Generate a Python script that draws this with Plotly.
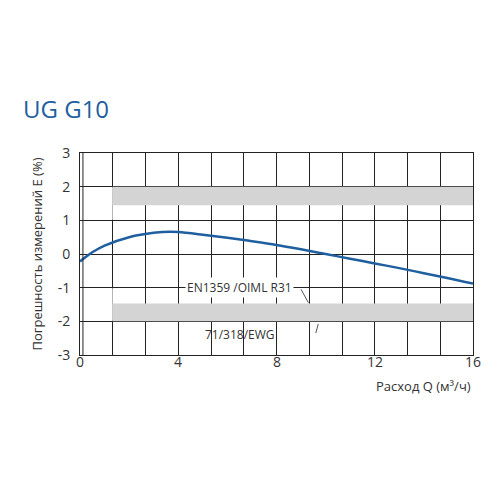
import plotly.graph_objects as go

# curve readings
flow = [0, 0.5, 1, 2, 3, 3.7, 4, 5, 6, 7, 8, 9, 10, 11, 12, 13, 14, 15, 16]
error = [-0.22, 0.05, 0.25, 0.5, 0.63, 0.66, 0.65, 0.57, 0.48, 0.38, 0.27, 0.14, 0.0, -0.14, -0.28, -0.42, -0.57, -0.72, -0.88]

band_x = [1.33, 16]
upper_band = [1.45, 2]
lower_band = [-2, -1.47]
y_ticks = [-3, -2, -1, 0, 1, 2, 3]
x_labels = [0, 4, 8, 12, 16]

blue = "#1f5fa0"
fig = go.Figure()
for lo, hi in (upper_band, lower_band):
    fig.add_shape(type="rect", x0=band_x[0], x1=band_x[1], y0=lo, y1=hi,
                  fillcolor="#d4d4d4", line_width=0, layer="above")
# white patches where grid is hidden
fig.add_shape(type="rect", x0=0.05, x1=1.33, y0=1.02, y1=1.98, fillcolor="white", line_width=0, layer="above")
fig.add_shape(type="rect", x0=0.05, x1=1.33, y0=-1.98, y1=-1.02, fillcolor="white", line_width=0, layer="above")
fig.add_shape(type="line", x0=0.12, x1=0.12, y0=-3, y1=3, line=dict(color="#222", width=1))

fig.add_trace(go.Scatter(x=flow, y=error, mode="lines", line=dict(color=blue, width=2.5, shape="spline"),
                         showlegend=False))

fig.add_shape(type="line", x0=9.0, x1=9.3, y0=-1.05, y1=-1.45, line=dict(color="#555", width=1))
fig.add_shape(type="line", x0=9.6, x1=9.7, y0=-2.35, y1=-2.08, line=dict(color="#555", width=1))
fig.add_annotation(x=6.5, y=-1, text="EN1359 /OIML R31", showarrow=False, bgcolor="white",
                   font=dict(size=12, color="#333", family="Open Sans"))
fig.add_annotation(x=6.5, y=-2.4, text="71/318/EWG", showarrow=False,
                   font=dict(size=12, color="#333", family="Open Sans"))

fig.update_layout(
    width=500, height=500, plot_bgcolor="white", paper_bgcolor="white",
    margin=dict(l=72, r=35, t=145, b=153),
    font=dict(family="Open Sans", color="#333", size=14),
    xaxis=dict(range=[0, 16], tick0=0, dtick=4 / 3, showgrid=True, gridcolor="#222", gridwidth=1,
               showticklabels=False, showline=True, linecolor="#222", mirror=True, zeroline=False),
    yaxis=dict(range=[-3, 3], tickvals=y_ticks, ticktext=[str(v) for v in y_ticks],
               showgrid=True, gridcolor="#222", gridwidth=1,
               showline=True, linecolor="#222", mirror=True, zeroline=False,
               ticks="", ticklabelstandoff=6,
               title=dict(text="Погрешность измерений E (%)", font=dict(size=13), standoff=12)),
    showlegend=False,
)
for v in x_labels:
    fig.add_annotation(x=v, y=0, yref="paper", yshift=-18, text=str(v), showarrow=False,
                       font=dict(size=14, color="#333"))
fig.add_annotation(x=1, xref="paper", y=0, yref="paper", yshift=-42, xanchor="right",
                   text="Расход Q (м³/ч)", showarrow=False, font=dict(size=13, color="#333"))
fig.add_annotation(x=-0.15, xref="paper", xanchor="left", y=1.31, yref="paper", text="UG G10",
                   showarrow=False, font=dict(size=24, color=blue, family="Open Sans"))
fig.write_html("out.html")
